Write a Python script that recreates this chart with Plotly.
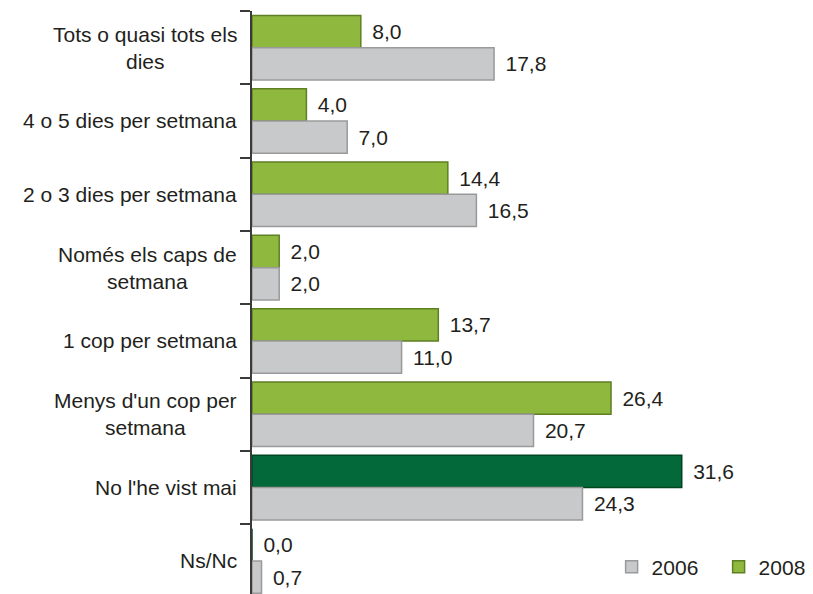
import plotly.graph_objects as go

categories = ["Tots o quasi tots els dies", "4 o 5 dies per setmana", "2 o 3 dies per setmana",
              "Només els caps de setmana", "1 cop per setmana", "Menys d'un cop per setmana",
              "No l'he vist mai", "Ns/Nc"]
category_labels = ["Tots o quasi tots els<br>dies", "4 o 5 dies per setmana", "2 o 3 dies per setmana",
                   "Només els caps de<br>setmana", "1 cop per setmana", "Menys d'un cop per<br>setmana",
                   "No l'he vist mai", "Ns/Nc"]
values_2006 = [17.8, 7.0, 16.5, 2.0, 11.0, 20.7, 24.3, 0.7]
values_2008 = [8.0, 4.0, 14.4, 2.0, 13.7, 26.4, 31.6, 0.0]
highlight_2008 = [False, False, False, False, False, False, True, True]

LIGHT_GREEN = "#8fb83f"
DARK_GREEN = "#03693a"
GRAY = "#c8c9cb"
TEXT = "#231f20"
FONT = "Liberation Sans, Arial, sans-serif"
FS = 21

def fmt(v):
    return "\u2009\u2009" + f"{v:.1f}".replace(".", ",")

colors_2008 = [DARK_GREEN if h else LIGHT_GREEN for h in highlight_2008]
lines_2008 = ["#00471f" if h else "#5f7f24" for h in highlight_2008]

fig = go.Figure()
fig.add_trace(go.Bar(
    name="2008", y=categories, x=values_2008, orientation="h",
    marker=dict(color=colors_2008, line=dict(color=lines_2008, width=1.5)),
    text=[fmt(v) for v in values_2008], textposition="outside",
    textfont=dict(size=FS, color=TEXT, family=FONT), cliponaxis=False,
    legendrank=2, hoverinfo="skip",
))
fig.add_trace(go.Bar(
    name="2006", y=categories, x=values_2006, orientation="h",
    marker=dict(color=GRAY, line=dict(color="#9a9a9c", width=1.5)),
    text=[fmt(v) for v in values_2006], textposition="outside",
    textfont=dict(size=FS, color=TEXT, family=FONT), cliponaxis=False,
    legendrank=1, hoverinfo="skip",
))

for cat, lab in zip(categories, category_labels):
    fig.add_annotation(x=0, xref="paper", y=cat, yref="y", text=lab, showarrow=False,
                       xanchor="right", yanchor="middle", align="center", xshift=-13,
                       font=dict(size=FS, color=TEXT, family=FONT))

fig.update_layout(
    width=813, height=594,
    margin=dict(l=244, r=0, t=3, b=0, autoexpand=False),
    paper_bgcolor="white", plot_bgcolor="white",
    barmode="group", bargap=0.12, bargroupgap=0.0,
    font=dict(family=FONT, size=FS, color=TEXT),
    showlegend=True,
    legend=dict(orientation="h", x=0.632, xanchor="left", y=0.059, yanchor="middle",
                font=dict(size=FS, color=TEXT, family=FONT), bgcolor="rgba(0,0,0,0)",
                entrywidth=62, traceorder="normal"),
)
fig.update_xaxes(range=[0, 41.84], showgrid=False, zeroline=False, showline=False,
                 showticklabels=False, ticks="")
fig.update_yaxes(range=[7.56, -0.5], showgrid=False, zeroline=False, showline=True,
                 linecolor="#3a3a3a", linewidth=1.5, ticks="outside", ticklen=10,
                 tickcolor="#3a3a3a", tickwidth=1.5, tickson="boundaries",
                 showticklabels=False)

fig.write_html("out.html")
